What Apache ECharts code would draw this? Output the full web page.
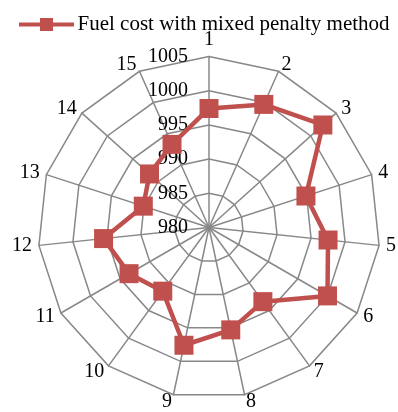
<!DOCTYPE html>
<html><head><meta charset="utf-8">
<script src="https://cdn.jsdelivr.net/npm/echarts@6/dist/echarts.min.js"></script>
<style>html,body{margin:0;padding:0;background:#fff}#c{width:398px;height:412px}</style>
</head><body><div id="c"></div>
<script>
const categories = ['1','2','3','4','5','6','7','8','9','10','11','12','13','14','15'];
const fuelCost = [997.4, 999.7, 1002.4, 994.9, 997.5, 1000.0, 993.4, 995.3, 997.6, 991.5, 993.5, 995.5, 990.1, 991.7, 993.3];
const seriesName = 'Fuel cost with mixed penalty method';
const axisMin = 980, axisMax = 1005;

// ECharts radar runs counter-clockwise; reorder so that 1,2,3... run clockwise
const order = [0].concat(categories.map((_, i) => i).slice(1).reverse());
const font = 'Liberation Serif';
const indicator = order.map((i, k) => {
  const o = { name: categories[i], min: axisMin, max: axisMax };
  if (k === 0) o.axisLabel = { show: true };
  return o;
});
const chart = echarts.init(document.getElementById('c'));
chart.setOption({
  animation: false,
  legend: {
    top: 9, left: 14,
    itemWidth: 56, itemHeight: 13, itemGap: 4,
    icon: 'path://M0,4.5H21V0H34V4.5H55V8.5H34V13H21V8.5H0Z',
    textStyle: { fontFamily: font, fontSize: 21, color: '#000', padding: [0, 0, 0, -2] },
    data: [seriesName]
  },
  radar: {
    center: [209, 227.5], radius: 171, startAngle: 90, shape: 'polygon',
    splitNumber: 5,
    indicator: indicator,
    axisName: { color: '#000', fontFamily: font, fontSize: 20 },
    nameGap: 7,
    splitArea: { show: false },
    splitLine: { lineStyle: { color: '#888', width: 1.5 } },
    axisLine: { lineStyle: { color: '#888', width: 1.5 } },
    axisTick: { show: false },
    axisLabel: { show: false, color: '#000', fontFamily: font, fontSize: 20, margin: 21,
      formatter: v => String(v) }
  },
  series: [{
    type: 'radar', name: seriesName,
    symbol: 'rect', symbolSize: 19,
    itemStyle: { color: '#C0504D' },
    lineStyle: { color: '#C0504D', width: 4.5 },
    data: [{ value: order.map(i => fuelCost[i]), name: seriesName }]
  }]
});
</script></body></html>
